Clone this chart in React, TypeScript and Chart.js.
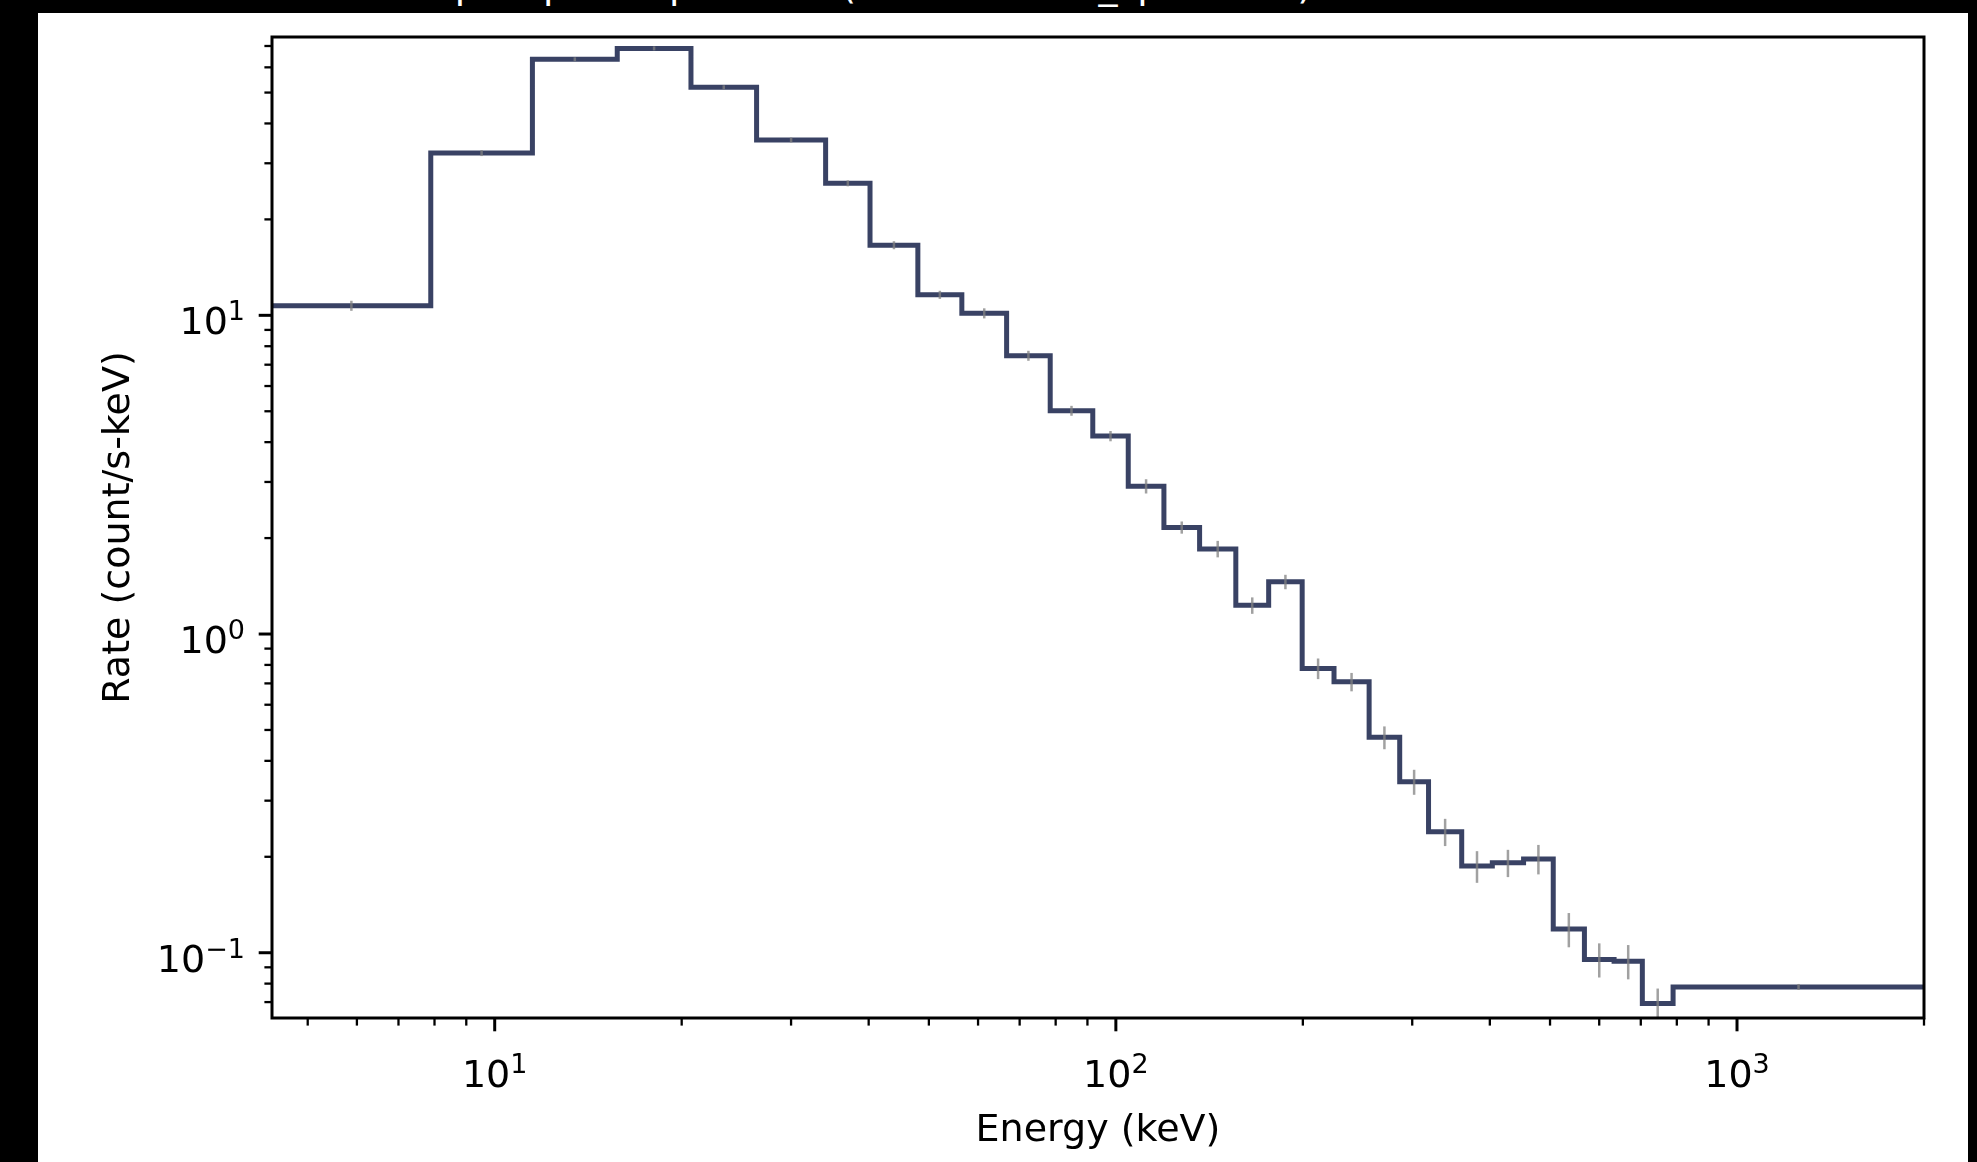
import React, { useEffect, useRef } from 'react';
import { Chart, registerables } from 'chart.js';

Chart.register(...registerables);

// ---- data ----
const binEdges = [
  4.38, 7.89, 11.5, 15.75, 20.7, 26.4, 34.1, 40.2, 48.0, 56.5, 66.7, 78.4, 91.8, 104.7, 119.5, 136.4,
  156, 176.2, 199.5, 224.5, 255.7, 286.4, 318.7, 360.4, 403.7, 453.3, 506, 568, 634, 704, 789, 2000,
];
const rates = [
  10.72, 32.3, 63.6, 68.8, 51.95, 35.5, 25.96, 16.6, 11.6, 10.15, 7.47, 5.02, 4.18, 2.91, 2.16, 1.85,
  1.23, 1.458, 0.78, 0.708, 0.474, 0.344, 0.2396, 0.187, 0.1915, 0.197, 0.1186, 0.0953, 0.0941, 0.0693, 0.0781,
];
const rateErrors = [
  0.39, 0.7, 0.9, 1.0, 0.75, 0.64, 0.56, 0.48, 0.34, 0.37, 0.27, 0.18, 0.155, 0.15, 0.095, 0.11,
  0.073, 0.076, 0.058, 0.047, 0.039, 0.031, 0.0235, 0.0213, 0.0188, 0.0209, 0.0146, 0.0117, 0.0116, 0.0079, 0.0017,
];

const xMajorTicks = [10, 100, 1000];
const xTickExponents = ['1', '2', '3'];
const yMajorTicks = [0.1, 1, 10];
const yTickExponents = ['\u22121', '0', '1'];

const xLabel = 'Energy (keV)';
const yLabel = 'Rate (count/s-keV)';
const titleText = 'specspec - spectrum (detector: nai_spectrum)';

const xMin = 4.38;
const xMax = 2000;
const yMin = 0.0624;
const yMax = 74.7;

const FONT = '"DejaVu Sans", "Liberation Sans", sans-serif';
const LINE_COLOR = '#394264';

function minorTicks(min: number, max: number): number[] {
  const out: number[] = [];
  for (let e = Math.floor(Math.log10(min)); e <= Math.ceil(Math.log10(max)); e++) {
    for (let m = 2; m <= 9; m++) {
      const v = m * Math.pow(10, e);
      if (v >= min * 0.9999 && v <= max * 1.0001) out.push(v);
    }
  }
  return out;
}

const mplPlugin = {
  id: 'mplAxes',
  afterDatasetsDraw(chart: any) {
    const { ctx, scales } = chart;
    const xs = scales.x;
    const ys = scales.y;
    ctx.save();
    ctx.beginPath();
    ctx.rect(chart.chartArea.left, chart.chartArea.top, chart.chartArea.width, chart.chartArea.height);
    ctx.clip();
    ctx.strokeStyle = 'rgba(130,130,130,0.75)';
    ctx.lineWidth = 2.5;
    for (let i = 0; i < rates.length; i++) {
      const xc = Math.sqrt(binEdges[i] * binEdges[i + 1]);
      const px = xs.getPixelForValue(xc);
      const lo = ys.getPixelForValue(Math.max(rates[i] - rateErrors[i], 1e-6));
      const hi = ys.getPixelForValue(rates[i] + rateErrors[i]);
      ctx.beginPath();
      ctx.moveTo(px, lo);
      ctx.lineTo(px, hi);
      ctx.stroke();
    }
    ctx.restore();
  },
  afterDraw(chart: any) {
    const { ctx, scales, chartArea } = chart;
    const xs = scales.x;
    const ys = scales.y;
    const { left, right, top, bottom } = chartArea;
    ctx.save();
    ctx.strokeStyle = '#000';
    ctx.fillStyle = '#000';

    // frame
    ctx.lineWidth = 3;
    ctx.strokeRect(left, top, right - left, bottom - top);

    // x ticks
    ctx.lineCap = 'butt';
    for (const v of minorTicks(xMin, xMax)) {
      const px = xs.getPixelForValue(v);
      ctx.lineWidth = 2.3;
      ctx.beginPath();
      ctx.moveTo(px, bottom);
      ctx.lineTo(px, bottom + 7.6);
      ctx.stroke();
    }
    for (const v of xMajorTicks) {
      const px = xs.getPixelForValue(v);
      ctx.lineWidth = 3;
      ctx.beginPath();
      ctx.moveTo(px, bottom);
      ctx.lineTo(px, bottom + 13.3);
      ctx.stroke();
    }
    // y ticks
    for (const v of minorTicks(yMin, yMax)) {
      const py = ys.getPixelForValue(v);
      ctx.lineWidth = 2.3;
      ctx.beginPath();
      ctx.moveTo(left, py);
      ctx.lineTo(left - 7.6, py);
      ctx.stroke();
    }
    for (const v of yMajorTicks) {
      const py = ys.getPixelForValue(v);
      ctx.lineWidth = 3;
      ctx.beginPath();
      ctx.moveTo(left, py);
      ctx.lineTo(left - 13.3, py);
      ctx.stroke();
    }

    const mainFont = `38px ${FONT}`;
    const supFont = `27px ${FONT}`;
    ctx.textBaseline = 'alphabetic';
    ctx.textAlign = 'left';

    // x tick labels
    xMajorTicks.forEach((v, i) => {
      const px = xs.getPixelForValue(v);
      ctx.font = mainFont;
      const wb = ctx.measureText('10').width;
      ctx.font = supFont;
      const we = ctx.measureText(xTickExponents[i]).width;
      const x0 = px - (wb + we) / 2;
      const base = bottom + 69;
      ctx.font = mainFont;
      ctx.fillText('10', x0, base);
      ctx.font = supFont;
      ctx.fillText(xTickExponents[i], x0 + wb, base - 14);
    });

    // y tick labels
    yMajorTicks.forEach((v, i) => {
      const py = ys.getPixelForValue(v);
      ctx.font = mainFont;
      const wb = ctx.measureText('10').width;
      ctx.font = supFont;
      const we = ctx.measureText(yTickExponents[i]).width;
      const xr = left - 27;
      const x0 = xr - we - wb;
      const base = py + 19;
      ctx.font = mainFont;
      ctx.fillText('10', x0, base);
      ctx.font = supFont;
      ctx.fillText(yTickExponents[i], x0 + wb, base - 14);
    });

    // axis titles
    ctx.font = mainFont;
    ctx.textAlign = 'center';
    ctx.fillText(xLabel, (left + right) / 2, bottom + 123);
    ctx.save();
    ctx.translate(91, (top + bottom) / 2);
    ctx.rotate(-Math.PI / 2);
    ctx.fillText(yLabel, 0, 0);
    ctx.restore();

    ctx.restore();
  },
};

export default function App() {
  const canvasRef = useRef<HTMLCanvasElement | null>(null);

  useEffect(() => {
    const canvas = canvasRef.current;
    if (!canvas) return;
    const stepPoints = binEdges.map((e, i) => ({ x: e, y: rates[Math.min(i, rates.length - 1)] }));
    const chart = new Chart(canvas, {
      type: 'line',
      data: {
        datasets: [
          {
            data: stepPoints,
            borderColor: LINE_COLOR,
            borderWidth: 5,
            stepped: true,
            pointRadius: 0,
            fill: false,
            borderJoinStyle: 'miter',
            borderCapStyle: 'butt',
          } as any,
        ],
      },
      options: {
        animation: false,
        responsive: false,
        devicePixelRatio: 1,
        layout: { padding: { top: 24, right: 44, left: 0, bottom: 0 } },
        plugins: {
          legend: { display: false },
          tooltip: { enabled: false },
          title: { display: false },
        },
        scales: {
          x: {
            type: 'logarithmic',
            position: 'bottom',
            min: xMin,
            max: xMax,
            grid: { display: false },
            border: { display: false },
            ticks: { display: false },
            afterFit(s: any) {
              s.height = 144;
            },
          },
          y: {
            type: 'logarithmic',
            position: 'left',
            min: yMin,
            max: yMax,
            grid: { display: false },
            border: { display: false },
            ticks: { display: false },
            afterFit(s: any) {
              s.width = 234;
            },
          },
        },
      } as any,
      plugins: [mplPlugin],
    });
    return () => chart.destroy();
  }, []);

  return (
    <div
      style={{
        position: 'fixed',
        left: 0,
        top: 0,
        width: 1977,
        height: 1162,
        background: '#000',
        overflow: 'hidden',
      }}
    >
      <div
        style={{
          position: 'absolute',
          left: 435,
          top: -34,
          color: '#fff',
          font: `38px ${FONT}`,
          lineHeight: '38px',
          whiteSpace: 'nowrap',
        }}
      >
        {titleText}
      </div>
      <div
        style={{
          position: 'absolute',
          left: 38,
          top: 13,
          width: 1930,
          height: 1149,
          background: '#fff',
        }}
      >
        <canvas
          ref={canvasRef}
          width={1930}
          height={1149}
          style={{ display: 'block', width: 1930, height: 1149, filter: 'blur(0.5px)' }}
        />
      </div>
    </div>
  );
}
